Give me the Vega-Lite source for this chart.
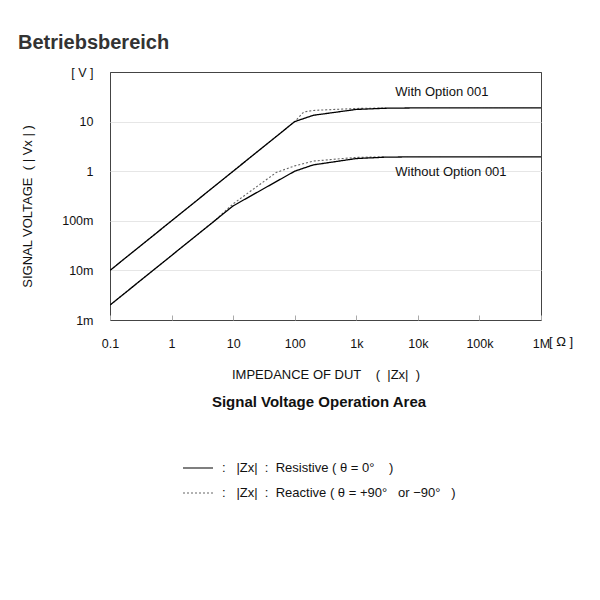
{
  "$schema": "https://vega.github.io/schema/vega-lite/v6.json",
  "width": 431,
  "height": 248,
  "autosize": {"type": "none"},
  "padding": {"left": 110, "top": 72, "right": 59, "bottom": 280},
  "background": "white",
  "config": {
    "font": "Liberation Sans",
    "view": {"stroke": "#444", "strokeWidth": 1},
    "axis": {"labelFont": "Liberation Sans", "titleFont": "Liberation Sans", "labelColor": "#111", "titleColor": "#111"}
  },
  "title": {
    "text": "Betriebsbereich",
    "anchor": "start",
    "frame": "group",
    "dx": -92,
    "offset": 13,
    "fontSize": 20,
    "fontWeight": "bold",
    "color": "#333",
    "font": "Liberation Sans"
  },
  "datasets": {
    "lines": [
      {"series": "With", "type": "Resistive", "z": 0.1, "v": 0.01},
      {"series": "With", "type": "Resistive", "z": 100, "v": 10},
      {"series": "With", "type": "Resistive", "z": 200, "v": 13.4},
      {"series": "With", "type": "Resistive", "z": 1000, "v": 17.6},
      {"series": "With", "type": "Resistive", "z": 3000, "v": 18.6},
      {"series": "With", "type": "Resistive", "z": 10000, "v": 18.9},
      {"series": "With", "type": "Resistive", "z": 1000000, "v": 18.9},
      {"series": "Without", "type": "Resistive", "z": 0.1, "v": 0.002},
      {"series": "Without", "type": "Resistive", "z": 10, "v": 0.2},
      {"series": "Without", "type": "Resistive", "z": 100, "v": 1},
      {"series": "Without", "type": "Resistive", "z": 200, "v": 1.34},
      {"series": "Without", "type": "Resistive", "z": 1000, "v": 1.8},
      {"series": "Without", "type": "Resistive", "z": 3000, "v": 1.92},
      {"series": "Without", "type": "Resistive", "z": 10000, "v": 1.95},
      {"series": "Without", "type": "Resistive", "z": 1000000, "v": 1.95},
      {"series": "With", "type": "Reactive", "z": 0.1, "v": 0.01},
      {"series": "With", "type": "Reactive", "z": 100, "v": 10},
      {"series": "With", "type": "Reactive", "z": 140, "v": 15.6},
      {"series": "With", "type": "Reactive", "z": 200, "v": 16.8},
      {"series": "With", "type": "Reactive", "z": 1000, "v": 18.4},
      {"series": "With", "type": "Reactive", "z": 3000, "v": 18.8},
      {"series": "Without", "type": "Reactive", "z": 0.1, "v": 0.002},
      {"series": "Without", "type": "Reactive", "z": 5, "v": 0.1},
      {"series": "Without", "type": "Reactive", "z": 10, "v": 0.22},
      {"series": "Without", "type": "Reactive", "z": 50, "v": 0.94},
      {"series": "Without", "type": "Reactive", "z": 100, "v": 1.28},
      {"series": "Without", "type": "Reactive", "z": 200, "v": 1.6},
      {"series": "Without", "type": "Reactive", "z": 1000, "v": 1.9},
      {"series": "Without", "type": "Reactive", "z": 3000, "v": 1.95}
    ],
    "labels": [
      {"text": "With Option 001", "z": 4300, "v": 40},
      {"text": "Without Option 001", "z": 4300, "v": 0.955}
    ],
    "unit": [
      {"text": "[\u00a0Ω\u00a0]", "z": 1000000, "v": 0.001}
    ]
  },
  "layer": [
    {
      "data": {"name": "lines"},
      "transform": [{"filter": "datum.type === 'Reactive'"}],
      "mark": {"type": "line", "strokeWidth": 1.1, "clip": true},
      "encoding": {
        "x": {
          "field": "z", "type": "quantitative",
          "scale": {"type": "log", "domain": [0.1, 1000000], "nice": false},
          "axis": {
            "values": [0.1, 1, 10, 100, 1000, 10000, 100000, 1000000],
            "labelExpr": "datum.value >= 999999 ? '1M' : datum.value >= 99999 ? '100k' : datum.value >= 9999 ? '10k' : datum.value >= 999 ? '1k' : datum.value >= 99 ? '100' : datum.value >= 9 ? '10' : datum.value >= 0.9 ? '1' : '0.1'",
            "grid": false,
            "domain": false,
            "ticks": true,
            "tickSize": -5,
            "tickColor": "#aaaaaa",
            "labelPadding": 22,
            "labelFontSize": 12.5,
            "labelFlush": false,
            "title": "IMPEDANCE OF DUT\u00a0\u00a0\u00a0\u00a0(\u00a0\u00a0|Zx|\u00a0\u00a0)",
            "titleFontSize": 13,
            "titleFontWeight": "normal",
            "titlePadding": 19
          }
        },
        "y": {
          "field": "v", "type": "quantitative",
          "scale": {"type": "log", "domain": [0.001, 100], "nice": false},
          "axis": {
            "values": [0.001, 0.01, 0.1, 1, 10, 100],
            "labelExpr": "datum.value >= 99 ? '[\u00a0V\u00a0]' : datum.value >= 9 ? '10' : datum.value >= 0.9 ? '1' : datum.value >= 0.09 ? '100m' : datum.value >= 0.009 ? '10m' : '1m'",
            "grid": true,
            "gridColor": {"condition": {"test": "datum.value >= 99 || datum.value <= 0.0011", "value": "#444"}, "value": "#e6e6e6"},
            "domain": false,
            "ticks": false,
            "labelPadding": 17,
            "labelFontSize": 12.5,
            "labelFlush": false,
            "title": "SIGNAL VOLTAGE\u00a0\u00a0(\u00a0|\u00a0Vx\u00a0|\u00a0)",
            "titleFontSize": 13,
            "titleFontWeight": "normal",
            "titlePadding": 27,
            "titleY": 134
          }
        },
        "detail": {"field": "series"},
        "color": {
          "field": "type", "type": "nominal",
          "scale": {"domain": ["Resistive", "Reactive"], "range": ["#000000", "#666666"]},
          "legend": {
            "orient": "none",
            "legendX": 72,
            "legendY": 323,
            "direction": "vertical",
            "title": "Signal Voltage Operation Area",
            "titleFontSize": 15,
            "titleFontWeight": "bold",
            "titleColor": "#111",
            "titleAnchor": "middle",
            "titleLimit": 500,
            "titlePadding": 42,
            "symbolType": "stroke",
            "symbolSize": 900,
            "symbolStrokeWidth": 1.2,
            "labelFontSize": 13,
            "labelColor": "#111",
            "labelOffset": 8,
            "labelLimit": 500,
            "rowPadding": 2,
            "labelExpr": "datum.label === 'Resistive' ? ':\u00a0\u00a0\u00a0|Zx|\u00a0\u00a0:\u00a0\u00a0Resistive\u00a0(\u00a0θ\u00a0=\u00a00°\u00a0\u00a0\u00a0\u00a0)' : ':\u00a0\u00a0\u00a0|Zx|\u00a0\u00a0:\u00a0\u00a0Reactive\u00a0(\u00a0θ\u00a0=\u00a0+90°\u00a0\u00a0\u00a0or\u00a0−90°\u00a0\u00a0\u00a0)'"
          }
        },
        "strokeDash": {
          "field": "type", "type": "nominal",
          "scale": {"domain": ["Resistive", "Reactive"], "range": [[1, 0], [2, 2]]},
          "legend": null
        }
      }
    },
    {
      "data": {"name": "lines"},
      "transform": [{"filter": "datum.type === 'Resistive'"}],
      "mark": {"type": "line", "strokeWidth": 1.3, "clip": true},
      "encoding": {
        "x": {"field": "z", "type": "quantitative"},
        "y": {"field": "v", "type": "quantitative"},
        "detail": {"field": "series"},
        "color": {"field": "type", "type": "nominal"},
        "strokeDash": {"field": "type", "type": "nominal"}
      }
    },
    {
      "data": {"name": "labels"},
      "mark": {"type": "text", "align": "left", "baseline": "middle", "fontSize": 13, "color": "#111"},
      "encoding": {
        "x": {"field": "z", "type": "quantitative"},
        "y": {"field": "v", "type": "quantitative"},
        "text": {"field": "text"}
      }
    },
    {
      "data": {"name": "unit"},
      "mark": {"type": "text", "align": "left", "baseline": "middle", "fontSize": 13, "color": "#111", "dx": 8, "dy": 22},
      "encoding": {
        "x": {"field": "z", "type": "quantitative"},
        "y": {"field": "v", "type": "quantitative"},
        "text": {"field": "text"}
      }
    }
  ]
}
